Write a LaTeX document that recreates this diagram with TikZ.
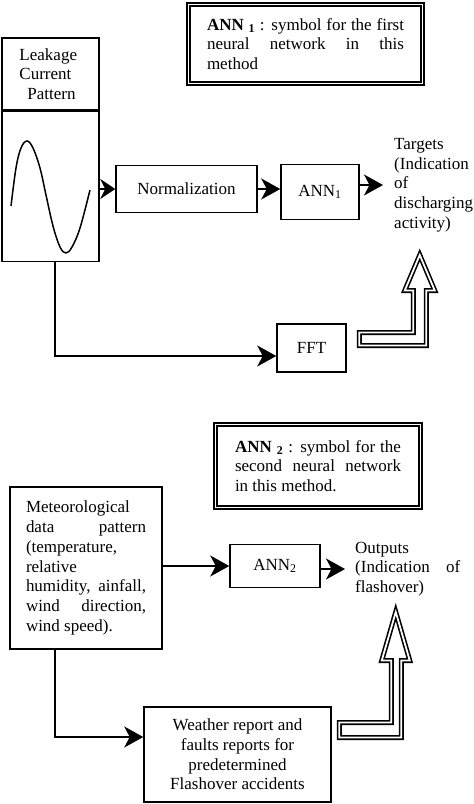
\documentclass[tikz,border=0pt]{standalone}
\usepackage{fontspec}
\setmainfont{Liberation Serif}
\usetikzlibrary{arrows.meta, backgrounds, positioning}
\tikzset{
    box/.style = {
      draw=black, fill=white, line width=1.5pt, inner sep=0, align=center,
    },
    note/.style = {
      draw=black, line width=1.8pt, double=white, double distance=1.8pt,
      inner sep=0, align=justify,
    },
    label text/.style = {inner sep=0, align=left},
    link/.style = {line width=1.6pt, black, arrows={-Stealth[length=19pt, width=21pt, inset=5.5pt]}},
    short link/.style = {link, arrows={-Stealth[length=15pt, width=20pt, inset=5pt]}},
    hollow/.style = {line width=1.6pt, draw=black, double=white, double distance=1.8pt},
    wave/.style = {line width=1.5pt, black},
}
\begin{document}
\begin{tikzpicture}[x=1pt, y=-1pt, font=\fontsize{17}{19.7}\selectfont]
    \useasboundingbox (0,0) rectangle (474,804);

    %% Upper part: leakage current path
    \node [note, minimum width=234pt, minimum height=79pt, text width=197pt]
          (note_a) at (305.5,44)
          {\textbf{ANN \textsubscript{1}} : symbol for the first\linebreak
           neural network in this\linebreak method};

    \node [box, minimum width=97pt, minimum height=72pt, text width=62pt, align=left]
          (leak_head) at (50.5,74) {Leakage\\Current\\\hspace*{8pt}Pattern};
    \node [box, minimum width=97pt, minimum height=150pt,
           below=0pt of leak_head] (leak_wave) {};
    \draw [wave] plot [smooth, tension=0.6] coordinates {
      (11,206) (16,168) (21,148) (27,141) (33,148) (40,168) (46,195)
      (53,226) (60,247) (66,253) (72,247) (80,228) (90,190)};

    \node [box, minimum width=141pt, minimum height=47pt] (norm) at (186.5,189) {Normalization};
    \node [box, minimum width=78pt, minimum height=55pt] (ann_a) at (320,192) {ANN\textsubscript{1}};
    \node [label text, anchor=west] (targets) at (394,185)
          {Targets\\(Indication\\of\\discharging\\activity)};
    \node [box, minimum width=69pt, minimum height=48pt] (fft) at (311.5,348) {FFT};

    %% Short links start inside the boxes, hidden behind them
    \begin{scope}[on background layer]
      \draw [short link] ([xshift=-25pt] leak_wave.east |- norm.west) -- (norm.west);
      \draw [link] ([xshift=-25pt] norm.east) -- (norm.east -| ann_a.west);
    \end{scope}
    \draw [link, shorten >=11pt] (ann_a.east |- targets.west) -- (targets.west);
    \draw [link] ([xshift=4.5pt] leak_wave.south) |- ([yshift=-8pt] fft.west);

    %% Hollow arrow from FFT up to the targets
    \draw [hollow] ([xshift=12.5pt, yshift=15.5pt] fft.east)
      -- ++(54,0) -- ++(0,-42) -- ++(-8.5,0) -- ++(15,-35.5)
      -- ++(15,35.5) -- ++(-8.5,0) -- ++(0,55) -- ++(-67,0) -- cycle;

    %% Lower part: weather data path
    \node [note, minimum width=205pt, minimum height=83pt, text width=166pt]
          (note_b) at (318,466)
          {\textbf{ANN \textsubscript{2}} : symbol for the\linebreak
           second neural network\linebreak in this method.};

    \node [box, minimum width=152pt, minimum height=162pt, text width=120pt, align=justify]
          (meteo) at (86,568)
          {Meteorological\linebreak data pattern\linebreak (temperature,\linebreak
           relative\linebreak humidity, ainfall,\linebreak wind direction,\linebreak
           wind speed).};
    \node [box, minimum width=90pt, minimum height=43pt] (ann_b) at (275,566) {ANN\textsubscript{2}};
    \node [label text, anchor=west, text width=105pt, align=justify] (outputs) at (355,569)
          {Outputs\linebreak (Indication of\linebreak flashover)};
    \node [box, minimum width=187pt, minimum height=95pt] (weather) at (237.5,754.5)
          {Weather report and\\faults reports for\\predetermined\\Flashover accidents};

    \draw [link] (meteo.east |- ann_b.west) -- (ann_b.west);
    \draw [link, shorten >=10pt] (ann_b.east |- outputs.west) -- (outputs.west);
    \draw [link] ([xshift=-31pt] meteo.south) |- ([yshift=17.5pt] weather.west);

    %% Hollow arrow from the reports up to the outputs
    \draw [hollow] ([xshift=7.5pt, yshift=32pt] weather.east)
      -- ++(52,0) -- ++(0,-62) -- ++(-9.5,0) -- ++(14,-48.5)
      -- ++(14,48.5) -- ++(-8.5,0) -- ++(0,77) -- ++(-62,0) -- cycle;
\end{tikzpicture}
\end{document}
